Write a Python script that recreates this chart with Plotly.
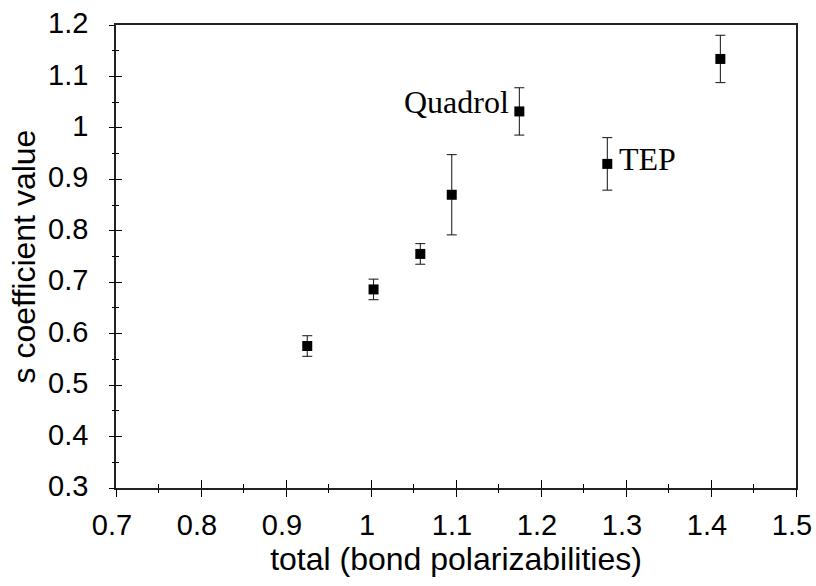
import plotly.graph_objects as go

# data
x_vals = [0.925, 1.003, 1.058, 1.095, 1.1745, 1.278, 1.411]
y_vals = [0.576, 0.686, 0.755, 0.870, 1.032, 0.930, 1.134]
y_err = [0.020, 0.020, 0.020, 0.078, 0.046, 0.051, 0.046]
label_names = ["Quadrol", "TEP"]
label_x = [1.1745, 1.278]
label_y = [1.032, 0.930]
x_range = [0.7, 1.5]
y_range = [0.3, 1.2]

fig = go.Figure()
fig.add_trace(go.Scatter(
    x=x_vals, y=y_vals, mode="markers",
    marker=dict(symbol="square", size=10, color="black"),
    error_y=dict(type="data", array=y_err, visible=True, color="#111",
                 thickness=1, width=5),
    showlegend=False,
))
# invisible traces so the extra tick-only axes get drawn
for xa, ya in [("x2", "y2"), ("x3", "y3")]:
    fig.add_trace(go.Scatter(x=[x_vals[0]], y=[y_vals[0]], mode="markers",
                             marker=dict(opacity=0), xaxis=xa, yaxis=ya,
                             showlegend=False, hoverinfo="skip"))

tickfont = dict(family="Liberation Sans, Arial, sans-serif", size=29, color="black")
titlefont = dict(family="Liberation Sans, Arial, sans-serif", size=32, color="black")
clear = "rgba(0,0,0,0)"


def tick_axis(rng, side, overlay, ticks, length, mlen):
    return dict(range=rng, dtick=0.1, tick0=rng[0], ticks=ticks, ticklen=length,
                tickwidth=1.2, tickcolor="black", showgrid=False, zeroline=False,
                showticklabels=False, overlaying=overlay, side=side, automargin=False,
                minor=dict(dtick=0.05, ticks=ticks, ticklen=mlen, tickwidth=1.2,
                           tickcolor="black"))


fig.update_layout(
    width=816, height=586,
    margin=dict(l=116, r=20, t=25, b=98),
    paper_bgcolor="white", plot_bgcolor="white",
    xaxis=dict(range=x_range, dtick=0.1, tick0=x_range[0], ticks="outside", ticklen=10,
               tickcolor=clear, showgrid=False, zeroline=False,
               showline=True, linecolor="#222", linewidth=1.5, mirror=True,
               tickfont=tickfont, tickformat="~g", automargin=False,
               ticklabeloverflow="allow", ticklabelshift=-4,
               title=dict(text="total (bond polarizabilities)", font=titlefont, standoff=4)),
    yaxis=dict(range=y_range, dtick=0.1, tick0=y_range[0], ticks="outside", ticklen=20,
               tickcolor=clear, showgrid=False, zeroline=False,
               showline=True, linecolor="#222", linewidth=1.5, mirror=True,
               tickfont=tickfont, tickformat="~g", automargin=False,
               ticklabeloverflow="allow", ticklabelshift=-2,
               title=dict(text="s coefficient value", font=titlefont, standoff=3)),
    xaxis2=tick_axis(x_range, "bottom", "x", "inside", 8, 4),
    yaxis2=tick_axis(y_range, "left", "y", "inside", 6, 3),
    xaxis3=tick_axis(x_range, "bottom", "x", "outside", 8, 4),
    yaxis3=tick_axis(y_range, "left", "y", "outside", 6, 3),
)

serif = dict(family="Liberation Serif, Times New Roman, serif", size=32, color="black")
fig.add_annotation(x=label_x[0], y=label_y[0], text=label_names[0], showarrow=False,
                   xanchor="right", yanchor="middle", xshift=-8, yshift=9, font=serif)
fig.add_annotation(x=label_x[1], y=label_y[1], text=label_names[1], showarrow=False,
                   xanchor="left", yanchor="middle", xshift=10, yshift=5, font=serif)

# remove the page's default body margin so the 816x586 figure fills the window exactly
fig.write_html("out.html",
               config={"displayModeBar": False},
               post_script="document.body.style.margin='0';document.body.style.overflow='hidden';")
